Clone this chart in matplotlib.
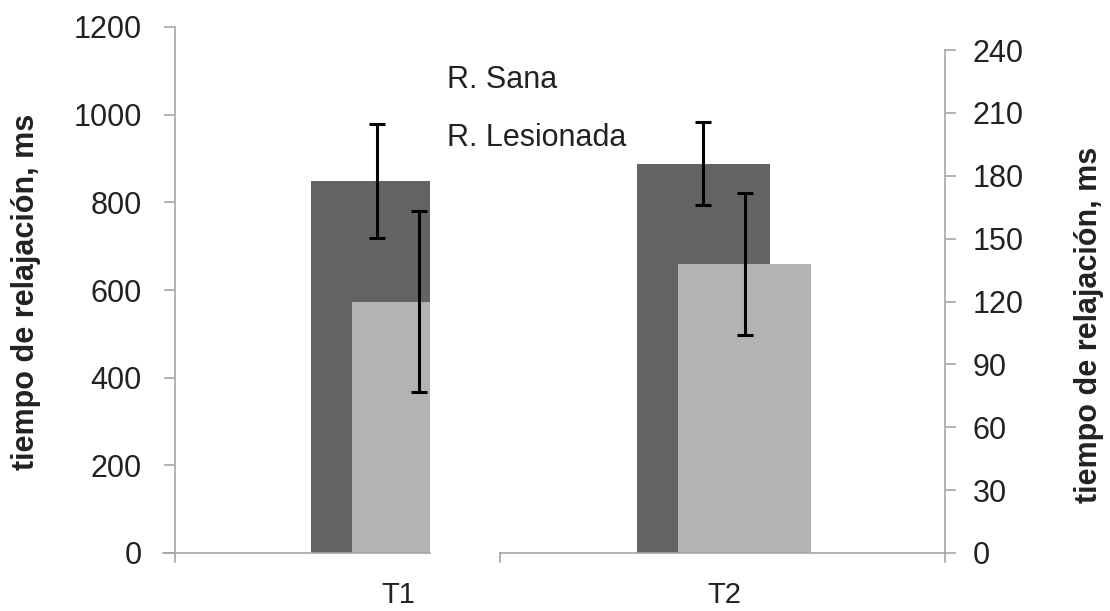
import matplotlib
matplotlib.use("Agg")
from matplotlib import pyplot as plt
from matplotlib.patches import Rectangle
import numpy as np

plt.rcParams["font.family"] = ["Liberation Sans", "DejaVu Sans"]

# data
categories = ["T1", "T2"]
sana = [848, 888]            # left axis
sana_err = [130, 95]
lesionada = [120, 138]       # right axis
lesionada_err = [43, 34]
series_names = ["R. Sana", "R. Lesionada"]

DARK = "#636363"
LIGHT = "#b3b3b3"
AXIS_GRAY = "#a6a6a6"
TXT = "#222222"
FS = 22

W, H = 1110, 611
fig = plt.figure(figsize=(W / 100, H / 100), dpi=100)

x0, x1, y0, y1 = 175, 945, 553, 27
ax = fig.add_axes([x0 / W, 1 - y0 / H, (x1 - x0) / W, (y0 - y1) / H])
ax2 = ax.twinx()

x = np.arange(len(categories))
width = 0.41
off = 0.063
ax.bar(x - off, sana, width, color=DARK, zorder=1)
ax.errorbar(x - off, sana, yerr=sana_err, fmt="none", ecolor="black",
            elinewidth=2.2, capsize=6, capthick=2.2, zorder=3)
ax2.bar(x + off, lesionada, width, color=LIGHT, zorder=1)
ax2.errorbar(x + off, lesionada, yerr=lesionada_err, fmt="none", ecolor="black",
             elinewidth=2.2, capsize=6, capthick=2.2, zorder=3)

# x scale: group spacing 326 px, T1 centred at 398 px
sp = 326.0
ax.set_xlim((x0 - 398) / sp, (x1 - 398) / sp)
ax.set_ylim(0, 1200)
ax.set_yticks(range(0, 1201, 200))
ax2.set_ylim(0, 240 * (y0 - y1) / (y0 - 50))
ax2.set_yticks(range(0, 241, 30))

for a in (ax, ax2):
    for s in a.spines.values():
        s.set_visible(False)
    a.tick_params(axis="y", colors=AXIS_GRAY, labelcolor=TXT, labelsize=FS,
                  length=8, width=1.2, direction="out")
ax.tick_params(axis="y", pad=16)
ax2.tick_params(axis="y", pad=12)
ax.tick_params(axis="x", length=0, labelsize=21, labelcolor=TXT, pad=20)
ax.spines["left"].set_visible(True)
ax.spines["left"].set_color(AXIS_GRAY)
ax.spines["left"].set_linewidth(1.2)
ax2.spines["right"].set_visible(True)
ax2.spines["right"].set_color(AXIS_GRAY)
ax2.spines["right"].set_linewidth(1.2)
ax2.spines["right"].set_bounds(0, 240)
ax.set_xticks(x)
ax.set_xticklabels(categories)

# break in the category axis: white gap between 430 and 500 px
ax2.add_patch(Rectangle(((430 - 398) / sp, 0), 70 / sp, 300,
                        facecolor="white", edgecolor="none", zorder=4))

# bottom axis segments
def px(xp, yp):
    return xp / W, 1 - yp / H

fig.add_artist(plt.Line2D(*zip(px(163, y0), px(430, y0)), color=AXIS_GRAY, lw=1.2))
fig.add_artist(plt.Line2D(*zip(px(500, y0), px(945, y0)), color=AXIS_GRAY, lw=1.2))
fig.add_artist(plt.Line2D(*zip(px(175, y0), px(175, y0 + 9)), color=AXIS_GRAY, lw=1.2))
fig.add_artist(plt.Line2D(*zip(px(500, y0), px(500, y0 + 9)), color=AXIS_GRAY, lw=1.2))
fig.add_artist(plt.Line2D(*zip(px(945, y0), px(945, y0 + 9)), color=AXIS_GRAY, lw=1.2))

# legend as plain text
fig.text(447 / W, 1 - 80 / H, series_names[0], fontsize=FS, color=TXT, va="center")
fig.text(447 / W, 1 - 138 / H, series_names[1], fontsize=FS, color=TXT, va="center")

fig.text(26 / W, 1 - 292 / H, "tiempo de relajación, ms", rotation=90,
         fontsize=FS, fontweight="bold", color=TXT, ha="center", va="center")
fig.text(1089 / W, 1 - 325 / H, "tiempo de relajación, ms", rotation=90,
         fontsize=FS, fontweight="bold", color=TXT, ha="center", va="center")

fig.savefig("out.png", dpi=100, facecolor="white")
